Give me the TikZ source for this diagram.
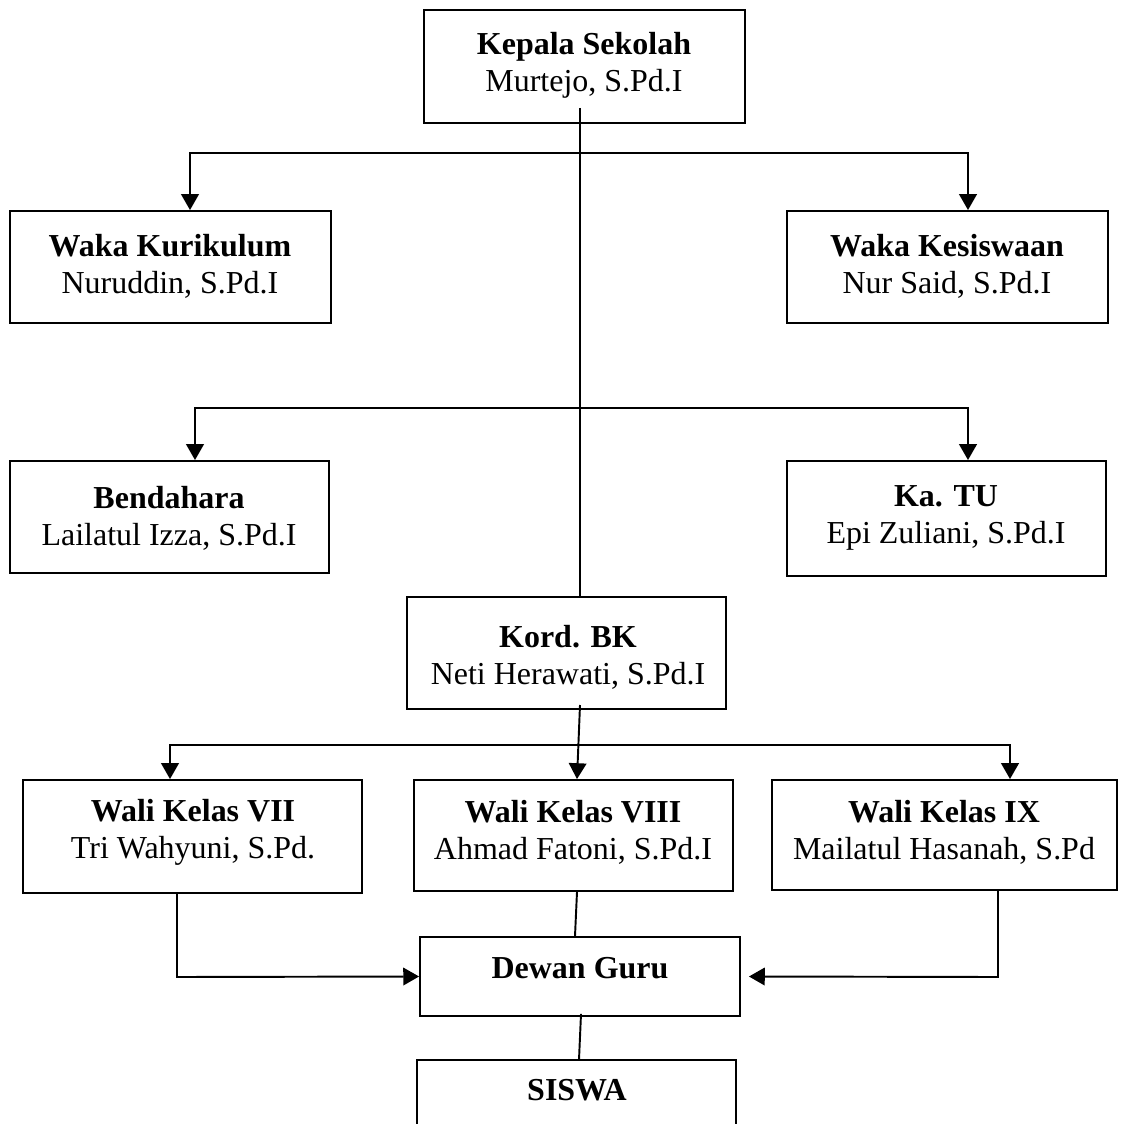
\documentclass[tikz,border=0pt]{standalone}
\usepackage{fontspec}
\setmainfont{Liberation Serif}
\usetikzlibrary{arrows.meta,calc}

\tikzset{
  box/.style={draw,line width=1.1pt,inner sep=0pt},
  txt/.style={align=center,font=\fontsize{18.2}{21}\selectfont},
  conn/.style={line width=1.1pt},
  tip/.style={-{Triangle[width=10pt,length=9pt]}},
  tips/.style={{Triangle[width=10pt,length=9pt]}-{Triangle[width=10pt,length=9pt]}}
}

\begin{document}
\begin{tikzpicture}[x=0.02cm,y=-0.02cm]
\useasboundingbox (0,0) rectangle (1142,1124);

% boxes
\node[box,minimum width=6.42cm,minimum height=2.26cm] (kepsek) at (584.5,66.5) {};
\node[box,minimum width=6.42cm,minimum height=2.24cm] (wakakur) at (170.5,267) {};
\node[box,minimum width=6.42cm,minimum height=2.24cm] (wakasis) at (947.5,267) {};
\node[box,minimum width=6.38cm,minimum height=2.24cm] (bendahara) at (169.5,517) {};
\node[box,minimum width=6.38cm,minimum height=2.30cm] (katu) at (946.5,518.5) {};
\node[box,minimum width=6.38cm,minimum height=2.24cm] (kordbk) at (566.5,653) {};
\node[box,minimum width=6.78cm,minimum height=2.26cm] (wali7) at (192.5,836.5) {};
\node[box,minimum width=6.38cm,minimum height=2.22cm] (wali8) at (573.5,835.5) {};
\node[box,minimum width=6.90cm,minimum height=2.20cm] (wali9) at (944.5,835) {};
\node[box,minimum width=6.40cm,minimum height=1.58cm] (dewan) at (580,976.5) {};
\node[inner sep=0pt,minimum width=6.38cm,minimum height=1.28cm] (siswa) at (576.5,1092) {};
\draw[conn] (siswa.south west) |- (siswa.north east) -- (siswa.south east);

% texts
\node[txt] (kepsek-t) at (584,65) {\textbf{Kepala Sekolah}\\Murtejo, S.Pd.I};
\node[txt] (wakakur-t) at (170,266) {\textbf{Waka Kurikulum}\\Nuruddin, S.Pd.I};
\node[txt] (wakasis-t) at (947,266) {\textbf{Waka Kesiswaan}\\Nur Said, S.Pd.I};
\node[txt] (bendahara-t) at (169,518) {\textbf{Bendahara}\\Lailatul Izza, S.Pd.I};
\node[txt] (katu-t) at (946,518) {\textbf{Ka. TU}\\Epi Zuliani, S.Pd.I};
\node[txt] (kordbk-t) at (568,657) {\textbf{Kord. BK}\\Neti Herawati, S.Pd.I};
\node[txt] (wali7-t) at (193,832) {\textbf{Wali Kelas VII}\\Tri Wahyuni, S.Pd.};
\node[txt] (wali8-t) at (573,832) {\textbf{Wali Kelas VIII}\\Ahmad Fatoni, S.Pd.I};
\node[txt] (wali9-t) at (944,832) {\textbf{Wali Kelas IX}\\Mailatul Hasanah, S.Pd};
\node[txt] (dewan-t) at (580,968) {\textbf{Dewan Guru}};
\node[txt] (siswa-t) at (577,1090) {\textbf{SISWA}};

% connectors
\coordinate (k0) at (580,108);
\draw[conn] (k0) -- (k0 |- kordbk.north);

\coordinate (b1l) at (190,153);
\coordinate (b1r) at (968,153);
\draw[conn,tips] (b1l |- wakakur.north) -- (b1l) -- (b1r) -- (b1r |- wakasis.north);

\coordinate (b2l) at (195,408);
\coordinate (b2r) at (968,408);
\draw[conn,tips] (b2l |- bendahara.north) -- (b2l) -- (b2r) -- (b2r |- katu.north);

\coordinate (k1) at (580,705);
\draw[conn,tip] (k1) -- ($(wali8.north)+(3.5,0)$);

\coordinate (b3l) at (170,745);
\coordinate (b3r) at (1010,745);
\draw[conn,tips] (b3l |- wali7.north) -- (b3l) -- (b3r) -- (b3r |- wali9.north);

\coordinate (w7) at (177,977);
\draw[conn,tip] (w7 |- wali7.south) -- (w7) -- (dewan.west);

\coordinate (w9) at (998,977);
\draw[conn,tip] (w9 |- wali9.south) -- (w9) -- ($(dewan.east)+(8,0)$);

\draw[conn] ($(wali8.south)+(3.5,0)$) -- ($(dewan.north)+(-5,0)$);
\draw[conn] ($(dewan.south)+(1,-3)$) -- ($(siswa.north)+(2.5,0)$);
\end{tikzpicture}
\end{document}
